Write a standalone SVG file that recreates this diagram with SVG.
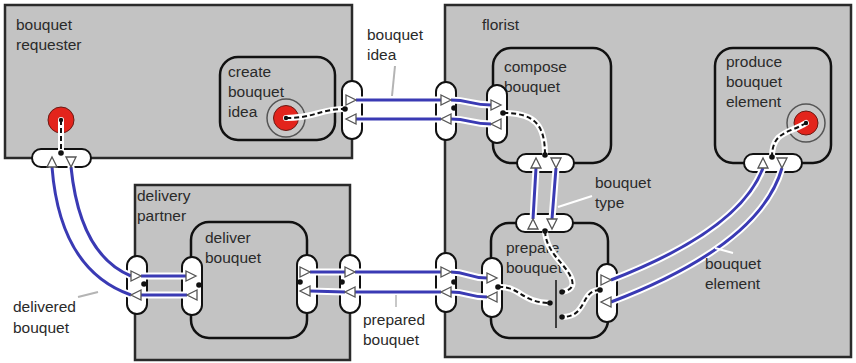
<svg xmlns="http://www.w3.org/2000/svg" xmlns:xlink="http://www.w3.org/1999/xlink" width="856" height="363" viewBox="0 0 856 363">
<style>
.box{fill:#c3c3c3;stroke:#2a2a2a;stroke-width:2.5}
.act{fill:#c3c3c3;stroke:#111;stroke-width:2.5}
.pin{fill:#fff;stroke:#111;stroke-width:2}
.lbl{font-family:"Liberation Sans",Arial,sans-serif;font-size:15.5px;fill:#2a2a2a}
.halo{fill:none;stroke:#fff;stroke-width:7;stroke-linecap:round}
.flow{fill:none;stroke:#3a3ab4;stroke-width:3}
.dhalo{fill:none;stroke:#fff;stroke-width:6;stroke-linecap:round}
.dash{fill:none;stroke:#111;stroke-width:2;stroke-dasharray:5 3}
.tri{fill:#fff;stroke:#555;stroke-width:1.3;stroke-linejoin:miter}
.dot{fill:#111}
.red{fill:#e3241c;stroke:#6a1a14;stroke-width:1}
.ring{fill:#c8c8c8;stroke:#555;stroke-width:1.5}
.lead{fill:none;stroke-width:2}
</style>
<defs>
<polygon id="tr" class="tri" points="-5,-5 5,0 -5,5"/>
<polygon id="tl" class="tri" points="5,-5 -5,0 5,5"/>
<polygon id="tu" class="tri" points="-5,5 0,-5 5,5"/>
<polygon id="td" class="tri" points="-5,-5 0,5 5,-5"/>
</defs>
<rect width="856" height="363" fill="#fff"/>

<g id="bouquet-requester">
<rect class="box" x="5" y="5" width="347" height="153"/>
<text class="lbl" x="16" y="30">bouquet</text>
<text class="lbl" x="16" y="50">requester</text>
<circle class="red" cx="61" cy="120" r="13"/>
<rect class="pin" x="342" y="81" width="20" height="58" rx="10"/>
<rect class="pin" x="32" y="149" width="59" height="18" rx="9"/>
</g>

<g id="florist">
<rect class="box" x="445" y="5" width="406" height="352"/>
<text class="lbl" x="482" y="30">florist</text>
<rect class="pin" x="436" y="82" width="20" height="58" rx="10"/>
<rect class="pin" x="436" y="253" width="20" height="59" rx="10"/>
</g>

<g id="delivery-partner">
<rect class="box" x="135" y="185" width="215" height="175"/>
<text class="lbl" x="137" y="201">delivery</text>
<text class="lbl" x="137" y="221">partner</text>
<rect class="pin" x="127" y="256" width="20" height="58" rx="10"/>
<rect class="pin" x="340" y="255" width="20" height="58" rx="10"/>
</g>

<g id="create-bouquet-idea">
<rect class="act" x="220" y="57" width="115" height="83" rx="18"/>
<text class="lbl" x="228" y="77">create</text>
<text class="lbl" x="228" y="97">bouquet</text>
<text class="lbl" x="228" y="117">idea</text>
<circle class="ring" cx="286" cy="118" r="19"/>
<circle class="red" cx="286" cy="118" r="12.5"/>
</g>

<g id="compose-bouquet">
<rect class="act" x="493" y="48" width="118" height="115" rx="18"/>
<text class="lbl" x="504" y="72">compose</text>
<text class="lbl" x="504" y="92">bouquet</text>
<rect class="pin" x="487" y="85" width="20" height="58" rx="10"/>
<rect class="pin" x="517" y="154" width="57" height="18" rx="9"/>
</g>

<g id="produce-bouquet-element">
<rect class="act" x="715" y="48" width="116" height="115" rx="18"/>
<text class="lbl" x="726" y="67">produce</text>
<text class="lbl" x="726" y="87">bouquet</text>
<text class="lbl" x="726" y="107">element</text>
<circle class="ring" cx="806" cy="123" r="19"/>
<circle class="red" cx="806" cy="123" r="12"/>
<rect class="pin" x="744" y="154" width="58" height="18" rx="9"/>
</g>

<g id="deliver-bouquet">
<rect class="act" x="191" y="222" width="116" height="116" rx="18"/>
<text class="lbl" x="205" y="243">deliver</text>
<text class="lbl" x="205" y="263">bouquet</text>
<rect class="pin" x="182" y="257" width="20" height="58" rx="10"/>
<rect class="pin" x="297" y="255" width="20" height="58" rx="10"/>
</g>

<g id="prepare-bouquet">
<rect class="act" x="491" y="223" width="117" height="115" rx="18"/>
<text class="lbl" x="506" y="253">prepare</text>
<text class="lbl" x="506" y="273">bouquet</text>
<line x1="556" y1="280" x2="556" y2="328" stroke="#111" stroke-width="1.5"/>
<rect class="pin" x="516" y="214" width="57" height="18" rx="9"/>
<rect class="pin" x="482" y="258" width="20" height="59" rx="10"/>
<rect class="pin" x="597" y="264" width="20" height="58" rx="10"/>
</g>

<g id="connectors">
<!-- object flows: halos -->
<g class="halo">
<path d="M356,100 L441,100 M451,100 C470,100 470,105 491,105"/>
<path d="M491,124 C470,124 470,119 451,119 M441,119 L356,119"/>
<path d="M71,167 Q80,255 131,276 M141,276 L186,276"/>
<path d="M187,295 L141,295 M131,295 Q60,270 52,167"/>
<path d="M310,272 L345,272 M355,272 L441,272 M451,272 C468,272 468,278 487,278"/>
<path d="M487,297 C468,297 468,292 451,292 M441,292 L355,292 M345,292 L310,291"/>
<path d="M533,219 L536,168 M556,168 L552,219"/>
<path d="M611,280 Q740,230 763,168 M782,168 Q760,245 611,302"/>
</g>
<g class="flow">
<path d="M356,100 L441,100 M451,100 C470,100 470,105 491,105"/>
<path d="M491,124 C470,124 470,119 451,119 M441,119 L356,119"/>
<path d="M71,167 Q80,255 131,276 M141,276 L186,276"/>
<path d="M187,295 L141,295 M131,295 Q60,270 52,167"/>
<path d="M310,272 L345,272 M355,272 L441,272 M451,272 C468,272 468,278 487,278"/>
<path d="M487,297 C468,297 468,292 451,292 M441,292 L355,292 M345,292 L310,291"/>
<path d="M533,219 L536,168 M556,168 L552,219"/>
<path d="M611,280 Q740,230 763,168 M782,168 Q760,245 611,302"/>
</g>
<!-- control flows -->
<g class="dhalo">
<path d="M61,120 L61,153"/>
<path d="M286,118 C315,118 320,109 345,109"/>
<path d="M503,113 C535,113 545,125 545,155"/>
<path d="M806,123 C790,133 772,131 772,157"/>
<path d="M545,231 C546,250 560,260 568,272 S573,290 562,292"/>
<path d="M498,287 C520,286 522,303 550,303"/>
<path d="M600,290 C580,290 588,317 562,317"/>
</g>
<g class="dash">
<path d="M61,120 L61,153"/>
<path d="M286,118 C315,118 320,109 345,109"/>
<path d="M503,113 C535,113 545,125 545,155"/>
<path d="M806,123 C790,133 772,131 772,157"/>
<path d="M545,231 C546,250 560,260 568,272 S573,290 562,292"/>
<path d="M498,287 C520,286 522,303 550,303"/>
<path d="M600,290 C580,290 588,317 562,317"/>
</g>
<g class="dot">
<circle cx="61" cy="120" r="2.2"/><circle cx="61" cy="153" r="2.8"/>
<circle cx="286" cy="118" r="2.2"/><circle cx="345" cy="109" r="2.8"/>
<circle cx="454" cy="108" r="2.8"/>
<circle cx="503" cy="113" r="2.8"/><circle cx="545" cy="155" r="2.8"/>
<circle cx="806" cy="123" r="2.2"/><circle cx="772" cy="157" r="2.8"/>
<circle cx="545" cy="231" r="2.8"/><circle cx="562" cy="292" r="2.8"/>
<circle cx="498" cy="287" r="2.8"/><circle cx="550" cy="303" r="2.8"/>
<circle cx="600" cy="290" r="2.8"/><circle cx="562" cy="317" r="2.8"/>
<circle cx="144" cy="284" r="2.8"/><circle cx="199" cy="285" r="2.8"/>
<circle cx="300" cy="282" r="2.8"/><circle cx="342" cy="282" r="2.8"/>
<circle cx="454" cy="282" r="2.8"/>
</g>
<!-- pin arrowheads -->
<use href="#tr" x="351" y="100"/><use href="#tl" x="351" y="119"/>
<use href="#tr" x="446" y="100"/><use href="#tl" x="446" y="119"/>
<use href="#tr" x="496" y="105"/><use href="#tl" x="496" y="124"/>
<use href="#tu" x="52" y="162"/><use href="#td" x="71" y="162"/>
<use href="#tu" x="536" y="163"/><use href="#td" x="556" y="163"/>
<use href="#tu" x="533" y="224"/><use href="#td" x="552" y="224"/>
<use href="#tu" x="763" y="163"/><use href="#td" x="782" y="163"/>
<use href="#tr" x="136" y="276"/><use href="#tl" x="136" y="295"/>
<use href="#tr" x="191" y="276"/><use href="#tl" x="192" y="295"/>
<use href="#tr" x="305" y="272"/><use href="#tl" x="305" y="291"/>
<use href="#tr" x="350" y="272"/><use href="#tl" x="350" y="292"/>
<use href="#tr" x="446" y="272"/><use href="#tl" x="446" y="292"/>
<use href="#tr" x="492" y="278"/><use href="#tl" x="492" y="297"/>
<use href="#tr" x="606" y="280"/><use href="#tl" x="606" y="302"/>
</g>

<g id="flow-labels">
<line class="lead" x1="395" y1="66" x2="392" y2="96" stroke="#b4b4b4"/>
<text class="lbl" x="367" y="40">bouquet</text>
<text class="lbl" x="367" y="60">idea</text>
<line class="lead" x1="558" y1="207" x2="592" y2="196" stroke="#fff"/>
<text class="lbl" x="595" y="188">bouquet</text>
<text class="lbl" x="595" y="208">type</text>
<line class="lead" x1="715" y1="248" x2="733" y2="253" stroke="#fff"/>
<text class="lbl" x="705" y="269">bouquet</text>
<text class="lbl" x="705" y="289">element</text>
<line class="lead" x1="396" y1="295" x2="396" y2="307" stroke="#c8c8c8"/>
<text class="lbl" x="363" y="325">prepared</text>
<text class="lbl" x="363" y="345">bouquet</text>
<line class="lead" x1="78" y1="297" x2="98" y2="292" stroke="#b4b4b4"/>
<text class="lbl" x="13" y="312">delivered</text>
<text class="lbl" x="13" y="333">bouquet</text>
</g>
</svg>
